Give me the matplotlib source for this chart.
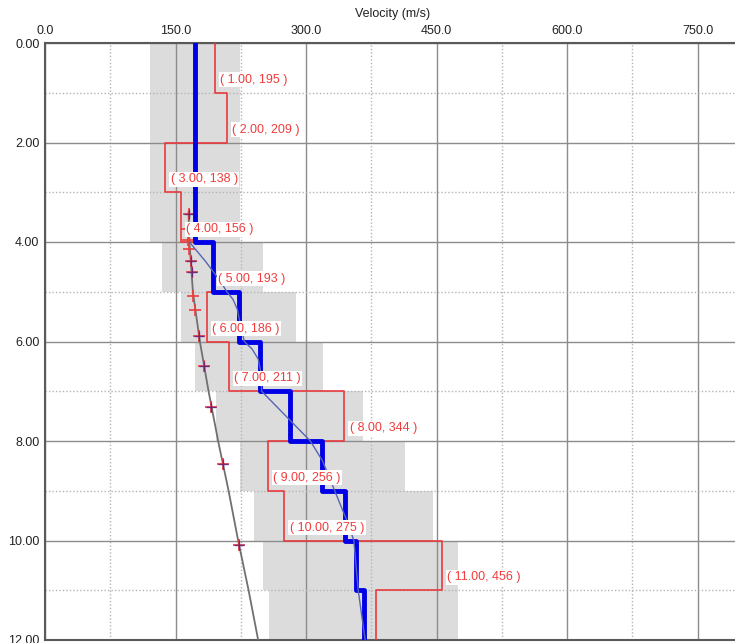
import numpy as np
import matplotlib.pyplot as plt
from matplotlib.ticker import MultipleLocator, FormatStrFormatter

plt.rcParams['font.family'] = ['Liberation Sans', 'DejaVu Sans']

# 1 m layers, 0-12 m
layer_top = [0, 1, 2, 3, 4, 5, 6, 7, 8, 9, 10, 11]
vs_layer = [195, 209, 138, 156, 193, 186, 211, 344, 256, 275, 456, 380]

# shaded search range for each layer
band_depth = [0, 4, 5, 6, 7, 8, 9, 10, 11]
band_min = [121, 134, 156, 172, 197, 224, 240, 251, 257]
band_max = [224, 251, 288, 320, 366, 414, 446, 475, 475]
band_h = [4, 1, 1, 1, 1, 1, 1, 1, 1]

# best model (thick blue steps)
best_bounds = [0, 4, 5, 6, 7, 8, 9, 10, 11, 12]
best_vs = [172, 193, 223, 247, 282, 318, 345, 357, 367]

# smoothed profile (thin line)
smooth_depth = [4.0, 4.4, 4.8, 5.0, 5.15, 5.35, 5.6, 6.0, 6.15, 6.35, 6.6, 7.0, 8.0, 8.4, 9.0, 9.6, 10.0, 11.0, 12.0]
smooth_vs = [166, 185, 202, 209, 216, 221, 224, 229, 238, 245, 248, 249, 305, 319, 333, 347, 355, 360, 368]

# trend line and picks
trend_depth = [3.4, 4.0, 5.0, 6.0, 7.0, 8.0, 9.0, 10.0, 11.0, 12.0]
trend_vs = [165, 166, 170, 178, 188, 199, 211, 222, 234, 245]
pick_depth = [3.43, 3.73, 3.96, 4.14, 4.39, 4.61, 5.08, 5.37, 5.88, 6.5, 7.31, 8.47, 10.1]
pick_vs = [166, 163, 164, 166, 168, 169, 170, 172, 177, 183, 191, 205, 223]
pick2_depth = [3.43, 4.39, 4.61, 5.88, 6.5, 7.31, 8.47, 10.1]
pick2_vs = [166, 168, 169, 177, 183, 191, 205, 223]

fig = plt.figure(figsize=(7.35, 6.43), dpi=100)
ax = fig.add_axes([45/735, 3/643, 696/735, 597/643])

ax.barh(band_depth, np.array(band_max) - np.array(band_min), left=band_min,
        height=band_h, align='edge', color='#dcdcdc', linewidth=0, zorder=1)

# red layer profile
d_red = np.repeat(np.append(layer_top, 12), 2)[1:-1]
v_red = np.repeat(vs_layer, 2)
ax.plot(v_red, d_red, color='#e8393d', lw=1.2, zorder=3)

ax.plot(trend_vs, trend_depth, color='#707070', lw=1.3, zorder=3)
ax.plot(pick_vs, pick_depth, ls='none', marker='+', ms=9, mew=1.2, color='#f03c3c', zorder=4)
ax.plot(pick2_vs, pick2_depth, ls='none', marker='+', ms=7, mew=1.0, color='#3a1a8a', alpha=0.7, zorder=4)

d_best = np.repeat(best_bounds, 2)[1:-1]
v_best = np.repeat(best_vs, 2)
ax.plot(v_best, d_best, color='#0000e6', lw=3.5, zorder=5)
ax.plot(smooth_vs, smooth_depth, color='#5565b5', lw=1.0, zorder=6)

for top, v in zip(layer_top[:-1], vs_layer[:-1]):
    d = top + 1
    ax.annotate('( %.2f, %d )' % (d, v), xy=(v, d - 0.26), xytext=(4, 0),
                textcoords='offset points', ha='left', va='center',
                fontsize=9, color='#f03c3c', zorder=7,
                bbox=dict(boxstyle='square,pad=0.12', fc='white', ec='none'))

ax.set_xlim(0, 800)
ax.set_ylim(12, 0)
ax.xaxis.set_major_locator(MultipleLocator(150))
ax.xaxis.set_minor_locator(MultipleLocator(75))
ax.yaxis.set_major_locator(MultipleLocator(2))
ax.yaxis.set_minor_locator(MultipleLocator(1))
ax.xaxis.set_major_formatter(FormatStrFormatter('%.1f'))
ax.yaxis.set_major_formatter(FormatStrFormatter('%.2f'))
ax.xaxis.tick_top()
ax.tick_params(which='both', length=0, labelsize=9, colors='#222222', pad=4)
ax.grid(which='major', color='#8c8c8c', lw=1.0)
ax.grid(which='minor', color='#b4b4b4', lw=1.0, ls=(0, (1, 1.5)))

for s in ['top', 'left', 'bottom']:
    ax.spines[s].set_color('#5a5a5a')
    ax.spines[s].set_linewidth(1.5)
ax.spines['right'].set_visible(False)

fig.text(393/735, 1 - 14/643, 'Velocity (m/s)', ha='center', va='center', fontsize=9, color='#222222')

fig.savefig('out.png', dpi=100)
